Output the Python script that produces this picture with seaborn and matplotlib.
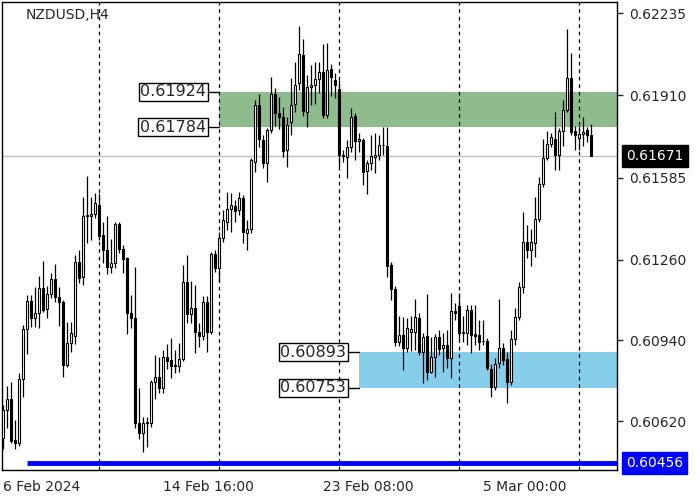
import numpy as np
import pandas as pd
import seaborn as sns
import matplotlib.pyplot as plt
from matplotlib.patches import Rectangle
from matplotlib.transforms import blended_transform_factory

# -------------------------
# 1. Data (NZDUSD H4, prices in points = 1e-5)
# -------------------------
opens = [
    60554, 60664, 60708, 60546, 60534, 60787, 60985, 61096, 61029, 61049,
    61148, 61064, 61124, 61183, 61112, 61092, 60843, 60930, 60957, 61250,
    61191, 61437, 61433, 61441, 61476, 61357, 61298, 61231, 61247, 61401,
    61302, 61266, 61049, 61029, 60613, 60573, 60613, 60613, 60775, 60795,
    60752, 60874, 60862, 60839, 60839, 60866, 61171, 61045, 61068, 60973,
    60957, 61092, 60973, 61282, 61227, 61346, 61409, 61460, 61472, 61456,
    61504, 61365, 61381, 61646, 61872, 61734, 61643, 61773, 61916, 61841,
    61825, 61694, 61805, 61876, 61959, 62070, 61844, 61943, 61951, 61975,
    62003, 61833, 62015, 61971, 61936, 61674, 61666, 61706, 61829, 61730,
    61734, 61611, 61643, 61666, 61674, 61714, 61710, 61239, 61144, 60934,
    60961, 60910, 60973, 60973, 61029, 60894, 60957, 60815, 60874, 60953,
    60910, 60922, 60870, 61056, 61076, 60969, 60969, 61060, 60965, 60961,
    60938, 60938, 60827, 60755, 60851, 60910, 60866, 60775, 60946, 61033,
    61152, 61330, 61298, 61326, 61421, 61559, 61662, 61718, 61738, 61674,
    61769, 61852, 61979, 61769, 61742, 61757, 61773, 61753,
]
closes = [
    60664, 60708, 60542, 60534, 60787, 60985, 61096, 61029, 61049, 61148,
    61060, 61124, 61183, 61112, 61092, 60843, 60930, 60969, 61250, 61187,
    61433, 61433, 61441, 61484, 61353, 61298, 61231, 61247, 61401, 61302,
    61262, 61049, 61029, 60613, 60573, 60613, 60617, 60775, 60795, 60752,
    60874, 60858, 60839, 60843, 60866, 61171, 61045, 61068, 60973, 60957,
    61092, 60973, 61282, 61227, 61346, 61417, 61460, 61476, 61452, 61504,
    61369, 61381, 61654, 61872, 61738, 61643, 61773, 61916, 61841, 61825,
    61690, 61793, 61872, 61951, 62074, 61848, 61943, 61951, 61975, 62003,
    61833, 62011, 61983, 61951, 61674, 61670, 61706, 61825, 61730, 61738,
    61607, 61643, 61670, 61674, 61714, 61714, 61235, 61144, 60934, 60961,
    60910, 60989, 60985, 61033, 60894, 60953, 60815, 60874, 60953, 60906,
    60922, 60870, 61056, 61049, 60969, 60973, 61060, 60961, 60957, 60934,
    60938, 60831, 60755, 60847, 60910, 60862, 60775, 60946, 61033, 61152,
    61330, 61298, 61330, 61421, 61559, 61662, 61718, 61745, 61674, 61769,
    61852, 61979, 61765, 61753, 61757, 61765, 61753, 61671,
]
highs = [
    60684, 60759, 60775, 60625, 60811, 61001, 61120, 61120, 61151, 61195,
    61254, 61155, 61207, 61243, 61151, 61100, 61013, 61013, 61278, 61298,
    61508, 61591, 61508, 61524, 61524, 61409, 61433, 61342, 61409, 61409,
    61318, 61270, 61120, 61231, 60752, 60637, 60637, 60783, 60882, 60874,
    60902, 60926, 60950, 60902, 60930, 61239, 61278, 61175, 61159, 61009,
    61116, 61116, 61290, 61298, 61369, 61456, 61528, 61524, 61496, 61528,
    61516, 61417, 61662, 61892, 61916, 61753, 61781, 61983, 61940, 61904,
    61864, 61825, 61979, 62042, 62185, 62134, 61991, 62031, 62042, 62042,
    62114, 62118, 62035, 61999, 61971, 61694, 61734, 61860, 61841, 61761,
    61742, 61654, 61753, 61761, 61753, 61785, 61785, 61250, 61155, 61037,
    61033, 61029, 61037, 61104, 61049, 60969, 61124, 60953, 60965, 60981,
    60969, 60981, 61128, 61088, 61128, 61037, 61080, 61080, 61080, 61021,
    61021, 60950, 60847, 60870, 61104, 60930, 60894, 60981, 61068, 61171,
    61448, 61397, 61381, 61508, 61587, 61738, 61769, 61761, 61844, 61781,
    61892, 62173, 62078, 61789, 61789, 61825, 61785, 61797,
]
lows = [
    60510, 60593, 60534, 60510, 60522, 60716, 60886, 60993, 60993, 60989,
    61052, 61029, 61108, 61092, 60997, 60795, 60835, 60894, 60926, 61167,
    61159, 61326, 61338, 61425, 61338, 61247, 61203, 61207, 61227, 61286,
    61207, 60965, 60989, 60593, 60550, 60498, 60518, 60597, 60708, 60732,
    60732, 60827, 60791, 60811, 60815, 60858, 61009, 61009, 60890, 60914,
    60942, 60894, 60965, 61211, 61171, 61330, 61377, 61369, 61409, 61437,
    61326, 61298, 61365, 61607, 61706, 61623, 61567, 61761, 61789, 61777,
    61666, 61627, 61753, 61844, 61932, 61829, 61785, 61872, 61876, 61920,
    61821, 61821, 61908, 61900, 61627, 61646, 61583, 61686, 61654, 61686,
    61555, 61520, 61615, 61603, 61654, 61674, 61191, 61100, 60918, 60918,
    60823, 60894, 60898, 60902, 60882, 60771, 60783, 60811, 60795, 60882,
    60815, 60831, 60791, 61021, 60942, 60934, 60922, 60890, 60922, 60902,
    60922, 60823, 60716, 60744, 60831, 60843, 60692, 60763, 60922, 61021,
    61128, 61266, 61235, 61270, 61409, 61547, 61654, 61706, 61615, 61615,
    61710, 61844, 61753, 61694, 61694, 61710, 61726, 61670,
]

x_tick_bars = [0, 40, 80, 120]
x_tick_labels = ["6 Feb 2024", "14 Feb 16:00", "23 Feb 08:00", "5 Mar 00:00"]
week_separators = [24, 54, 84, 114, 144]
y_ticks = [0.62235, 0.61910, 0.61585, 0.61260, 0.60940, 0.60620]

green_zone = [0.61784, 0.61924]
green_start = 54
blue_zone = [0.60753, 0.60893]
blue_start = 89
support_level = 0.60456
support_start = 6
last_price = 0.61671

df = pd.DataFrame({"open": opens, "high": highs, "low": lows, "close": closes}) / 1e5
df["bar"] = np.arange(len(df))
df["bull"] = df["close"] >= df["open"]

# -------------------------
# 2. Figure
# -------------------------
sns.set_style("white")
plt.rcParams["font.family"] = ["DejaVu Sans"]

fig = plt.figure(figsize=(7, 5), dpi=100)
ax = fig.add_axes([2 / 700, 30 / 500, 615 / 700, 468 / 500])
ax.set_xlim(-0.25, 153.5)
ax.set_ylim(0.60427, 0.62280)

# zones
ax.add_patch(Rectangle((green_start, green_zone[0]), 200, green_zone[1] - green_zone[0],
                       facecolor="#8fbc8f", edgecolor="none", zorder=0))
ax.add_patch(Rectangle((blue_start, blue_zone[0]), 200, blue_zone[1] - blue_zone[0],
                       facecolor="#87ceeb", edgecolor="none", zorder=0))

# week separators + current price line
for b in week_separators:
    ax.axvline(b, color="black", lw=0.9, ls=(0, (3, 3)), zorder=1)
ax.axhline(last_price, color="#c0c0c0", lw=1, zorder=1)

# -------------------------
# 3. Candles
# -------------------------
ax.vlines(df["bar"], df["low"], df["high"], color="black", lw=0.9, zorder=2)
body_bottom = df[["open", "close"]].min(axis=1)
body_height = (df["close"] - df["open"]).abs()
ax.bar(df["bar"], body_height, bottom=body_bottom, width=0.7,
       color=np.where(df["bull"], "white", "black"), edgecolor="black",
       linewidth=0.8, zorder=3)

# support line
ax.hlines(support_level, support_start, 160, color="#0000ff", lw=3.5, zorder=4)

# zone price boxes
box = dict(boxstyle="square,pad=0.1", fc="white", ec="black", lw=1)
for zone, start in [(green_zone, green_start), (blue_zone, blue_start)]:
    for level in zone:
        ax.plot([start - 2.5, start], [level, level], color="black", lw=1, zorder=5)
        ax.text(start - 3.2, level, f"{level:.5f}", ha="right", va="center",
                fontsize=11.5, bbox=box, zorder=6)

# -------------------------
# 4. Axes styling
# -------------------------
for s in ax.spines.values():
    s.set_color("black")
    s.set_linewidth(1)

ax.yaxis.tick_right()
ax.set_yticks(y_ticks)
ax.set_yticklabels([f"{v:.5f}" for v in y_ticks])
ax.tick_params(axis="y", direction="out", length=4, width=1, pad=5, labelsize=10)

ax.set_xticks(x_tick_bars)
ax.set_xticklabels(x_tick_labels)
for lab in ax.get_xticklabels():
    lab.set_horizontalalignment("left")
ax.tick_params(axis="x", direction="out", length=4, width=1, pad=3, labelsize=10)

trans = blended_transform_factory(ax.transAxes, ax.transData)
for value, face in [(last_price, "black"), (support_level, "#0000ff")]:
    ax.annotate(f"{value:.5f}", xy=(1, value), xycoords=trans, xytext=(6.5, 0),
                textcoords="offset points", ha="left", va="center", color="white",
                fontsize=10, annotation_clip=False,
                bbox=dict(boxstyle="square,pad=0.3", fc=face, ec=face))

fig.text(26 / 700, 1 - 15 / 500, "NZDUSD,H4", ha="left", va="center", fontsize=10)

plt.savefig("out.png", dpi=100)
